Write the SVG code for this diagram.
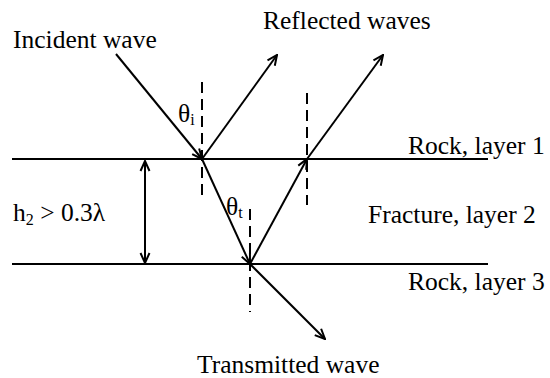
<svg xmlns="http://www.w3.org/2000/svg" width="550" height="378" viewBox="0 0 550 378">
<style>
.t{font-size:25.5px;fill:#000}
.sub{font-size:16px}
.ln{stroke:#000;stroke-width:2;fill:none}
.dash{stroke:#000;stroke-width:2;fill:none;stroke-dasharray:11,6}
.arr{marker-end:url(#ah)}
</style>
<defs>
<marker id="ah" markerUnits="userSpaceOnUse" viewBox="0 0 12 12" refX="11" refY="6" markerWidth="12" markerHeight="12" orient="auto-start-reverse">
<path d="M1,1.5 L11,6 L1,10.5" fill="none" stroke="#000" stroke-width="2"/>
</marker>
</defs>
<rect width="550" height="378" fill="#fff"/>
<g id="layers">
<line class="ln" x1="12" y1="159" x2="488" y2="159" stroke-width="2.5"/>
<line class="ln" x1="12" y1="264" x2="488" y2="264" stroke-width="2.5"/>
</g>
<g id="connectors">
<line class="ln arr" x1="116" y1="54" x2="202" y2="159"/>
<line class="ln arr" x1="202" y1="159" x2="277" y2="55"/>
<line class="ln arr" x1="202" y1="159" x2="250" y2="264"/>
<line class="ln arr" x1="250" y1="264" x2="307" y2="159"/>
<line class="ln arr" x1="307" y1="159" x2="383" y2="55"/>
<line class="ln arr" x1="250" y1="264" x2="325" y2="339"/>
<line class="ln" x1="145" y1="161" x2="145" y2="263" marker-start="url(#ah)" marker-end="url(#ah)"/>
<line class="dash" x1="202" y1="82" x2="202" y2="197"/>
<line class="dash" x1="307" y1="93" x2="307" y2="205"/>
<line class="dash" x1="250" y1="209" x2="250" y2="312"/>
</g>
<g id="labels" class="t" font-family="Liberation Serif, Times New Roman, DejaVu Serif, serif">
<text x="13" y="48">Incident wave</text>
<text x="263" y="29">Reflected waves</text>
<text x="408" y="154">Rock, layer 1</text>
<text x="368" y="223">Fracture, layer 2</text>
<text x="408" y="290">Rock, layer 3</text>
<text x="197" y="373">Transmitted wave</text>
<text x="13" y="221">h<tspan class="sub" dy="4">2</tspan><tspan dy="-4"> &gt; 0.3λ</tspan></text>
<text x="178" y="122">θ<tspan class="sub" dy="3">i</tspan></text>
<text x="226" y="215">θ<tspan class="sub" dy="3">t</tspan></text>
</g>
</svg>
